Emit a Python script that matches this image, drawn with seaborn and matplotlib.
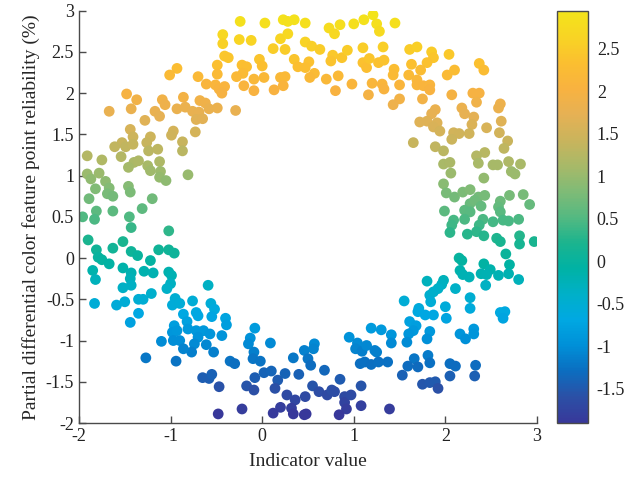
import numpy as np
import pandas as pd
import matplotlib
matplotlib.use('Agg')
import matplotlib.pyplot as plt
from matplotlib.colors import LinearSegmentedColormap, Normalize
from matplotlib.cm import ScalarMappable
from matplotlib.ticker import FormatStrFormatter
import seaborn as sns

# ============================================================
# Data, (indicator, reliability)
# ============================================================
upper_left = [
    (-0.43, 2.71), (-0.43, 2.60), (-0.41, 2.45), (-0.37, 2.43), (-0.49, 2.34), (-0.49, 2.23),
    (-0.93, 2.30), (-1.01, 2.22), (-0.70, 2.20), (-0.61, 2.11), (-0.51, 2.10), (-0.47, 2.05),
    (-0.41, 2.08), (-0.44, 2.00), (-1.48, 1.99), (-1.37, 1.92), (-1.67, 1.78), (-1.43, 1.81),
    (-1.09, 1.92), (-1.06, 1.86), (-0.86, 1.95), (-0.93, 1.81), (-0.84, 1.83), (-0.68, 1.91),
    (-0.62, 1.88), (-0.58, 1.81), (-0.49, 1.82), (-0.76, 1.78), (-0.69, 1.77), (-0.72, 1.68),
    (-0.65, 1.69), (-1.17, 1.78), (-1.12, 1.72), (-1.28, 1.67), (-1.44, 1.56), (-1.41, 1.47),
    (-0.97, 1.54), (-0.99, 1.49), (-0.73, 1.53), (-1.22, 1.47), (-0.87, 1.41), (-0.87, 1.30),
    (-1.53, 1.40), (-1.61, 1.35), (-1.49, 1.35), (-1.41, 1.38), (-1.26, 1.40), (-1.24, 1.30),
    (-1.14, 1.32), (-1.54, 1.23), (-1.91, 1.24), (-1.75, 1.19), (-1.40, 1.16), (-1.35, 1.18),
    (-1.46, 1.10), (-1.25, 1.12), (-1.22, 1.06), (-1.12, 1.17), (-1.11, 1.05), (-1.12, 0.98),
    (-1.05, 0.94), (-0.81, 1.01), (-1.91, 1.02), (-1.87, 0.96), (-1.78, 1.03), (-1.71, 0.93),
    (-1.67, 0.85), (-1.82, 0.84), (-1.69, 0.78), (-1.63, 0.75), (-1.46, 0.87), (-1.44, 0.80),
    (-1.89, 0.72), (-1.20, 0.72), (-1.31, 0.60), (-1.81, 0.57), (-1.63, 0.57), (-1.96, 0.50),
    (-1.83, 0.47), (-1.45, 0.50),
]

upper_mid = [
    (-0.24, 2.87), (0.03, 2.85), (0.23, 2.89), (0.28, 2.87), (0.35, 2.89), (0.47, 2.85),
    (0.73, 2.79), (0.79, 2.72), (0.85, 2.83), (1.00, 2.84), (1.11, 2.89), (1.21, 2.95),
    (1.25, 2.84), (1.28, 2.75), (-0.25, 2.65), (-0.12, 2.64), (0.20, 2.66), (0.28, 2.72),
    (0.12, 2.54), (0.25, 2.53), (0.47, 2.62), (0.54, 2.57), (0.63, 2.53), (0.77, 2.46),
    (0.75, 2.39), (0.87, 2.43), (0.93, 2.52), (1.10, 2.55), (1.32, 2.56), (-0.03, 2.41),
    (0.00, 2.33), (-0.22, 2.34), (-0.17, 2.32), (-0.21, 2.24), (-0.28, 2.20), (0.35, 2.41),
    (0.39, 2.32), (0.51, 2.38), (0.47, 2.31), (0.57, 2.24), (0.52, 2.19), (1.10, 2.37),
    (1.14, 2.31), (1.17, 2.42), (1.27, 2.37), (1.33, 2.40), (-0.09, 2.17), (0.02, 2.19),
    (0.20, 2.19), (0.25, 2.20), (0.70, 2.17), (0.83, 2.21), (0.98, 2.11), (1.20, 2.12),
    (1.31, 2.11), (1.33, 2.05), (-0.20, 2.09), (-0.09, 2.03), (0.13, 2.04), (0.23, 2.09),
    (0.80, 2.03), (1.16, 1.98), (-0.29, 1.79),
]

upper_right = [
    (1.45, 2.85), (1.61, 2.53), (1.69, 2.56), (1.85, 2.50), (1.87, 2.43), (1.80, 2.37),
    (2.04, 2.47), (1.63, 2.35), (1.73, 2.28), (1.44, 2.29), (1.43, 2.22), (1.60, 2.22),
    (1.69, 2.16), (1.69, 2.10), (2.37, 2.36), (2.42, 2.28), (2.02, 2.22), (2.10, 2.28),
    (1.50, 2.10), (1.76, 2.09), (1.83, 2.10), (1.83, 2.04), (2.07, 1.98), (2.30, 2.00),
    (2.37, 2.00), (2.34, 1.89), (1.50, 1.93), (1.43, 1.86), (1.75, 1.93), (1.89, 1.80),
    (1.85, 1.75), (2.18, 1.82), (2.21, 1.75), (2.60, 1.87), (2.58, 1.82), (1.72, 1.65),
    (1.80, 1.66), (1.91, 1.64), (1.87, 1.59), (1.94, 1.54), (2.31, 1.71), (2.29, 1.62),
    (2.61, 1.66), (2.09, 1.52), (2.15, 1.51), (2.07, 1.44), (2.26, 1.51), (2.45, 1.58),
    (2.59, 1.52), (1.65, 1.40), (2.68, 1.42), (2.64, 1.33), (1.89, 1.35), (1.98, 1.30),
    (2.43, 1.28), (2.34, 1.24),
]

mid_right = [
    (1.98, 1.14), (2.05, 1.16), (2.36, 1.15), (2.52, 1.13), (2.57, 1.13), (2.69, 1.17),
    (2.82, 1.14), (2.06, 1.03), (2.42, 0.97), (2.72, 1.05), (2.76, 1.02), (1.98, 0.90),
    (2.01, 0.79), (2.10, 0.74), (2.19, 0.80), (2.27, 0.83), (2.36, 0.74), (2.43, 0.76),
    (2.27, 0.66), (2.32, 0.70), (2.60, 0.69), (2.58, 0.62), (2.70, 0.76), (2.85, 0.77),
    (2.92, 0.65), (1.99, 0.57), (2.21, 0.58), (2.27, 0.56), (2.39, 0.63), (2.60, 0.56),
    (2.09, 0.46), (2.07, 0.40), (2.05, 0.31), (2.21, 0.47), (2.41, 0.47), (2.37, 0.40),
    (2.34, 0.32), (2.42, 0.27), (2.52, 0.44), (2.63, 0.46), (2.69, 0.45), (2.80, 0.47),
    (2.24, 0.29), (2.56, 0.24), (2.60, 0.20), (2.66, 0.05), (2.81, 0.27), (2.81, 0.17),
    (2.97, 0.20), (2.15, 0.00), (2.18, -0.03), (2.42, -0.07), (2.49, -0.14), (2.39, -0.19),
    (2.45, -0.20), (2.16, -0.15), (2.19, -0.20), (2.26, -0.23), (2.58, -0.21), (2.70, -0.08),
    (2.69, -0.19), (2.80, -0.26), (2.44, -0.33), (2.11, -0.37), (1.80, -0.28), (1.98, -0.27),
    (1.96, -0.32), (1.92, -0.37), (1.83, -0.45), (1.87, -0.41), (1.84, -0.53), (1.55, -0.52),
    (1.71, -0.61), (2.27, -0.48), (2.27, -0.61), (2.00, -0.59),
]

lower_left = [
    (-1.43, 0.37), (-1.02, 0.33), (-1.90, 0.22), (-1.63, 0.12), (-1.52, 0.20), (-1.81, 0.10),
    (-1.79, 0.01), (-1.75, -0.02), (-1.67, -0.07), (-1.43, 0.08), (-1.36, 0.03), (-1.22, -0.03),
    (-1.13, 0.10), (-1.02, 0.10), (-0.96, 0.06), (-1.85, -0.15), (-1.82, -0.26), (-1.52, -0.12),
    (-1.43, -0.18), (-1.44, -0.25), (-1.43, -0.33), (-1.29, -0.16), (-1.19, -0.18), (-1.52, -0.36),
    (-1.02, -0.17), (-0.99, -0.21), (-1.00, -0.31), (-1.04, -0.37), (-0.59, -0.33), (-1.83, -0.55),
    (-1.59, -0.57), (-1.50, -0.53), (-1.35, -0.50), (-1.30, -0.50), (-1.21, -0.43), (-1.35, -0.67),
    (-1.44, -0.78), (-0.95, -0.49), (-0.98, -0.57), (-0.90, -0.55), (-0.76, -0.52), (-0.86, -0.68),
    (-0.82, -0.77), (-0.72, -0.66), (-0.70, -0.70), (-0.56, -0.55), (-0.52, -0.62), (-0.55, -0.71),
    (-0.40, -0.73), (-0.39, -0.81), (-0.44, -0.94), (-0.96, -0.82), (-0.98, -0.90), (-0.93, -0.88),
    (-0.81, -0.86), (-0.72, -0.88), (-0.64, -0.88), (-0.70, -0.96), (-0.57, -0.92), (-0.97, -1.00),
    (-0.90, -1.00), (-0.74, -1.04), (-0.77, -1.14), (-0.86, -1.10), (-1.10, -1.01), (-0.61, -1.05),
    (-0.53, -1.14), (-1.27, -1.21), (-0.94, -1.25), (-0.65, -1.45), (-0.58, -1.46), (-0.55, -1.41),
    (-0.47, -1.56), (-0.48, -1.89),
]

lower_mid = [
    (-0.08, -0.85), (-0.13, -0.97), (-0.15, -1.04), (0.09, -1.03), (-0.09, -1.14), (-0.10, -1.22),
    (-0.02, -1.25), (-0.35, -1.25), (-0.30, -1.28), (-0.08, -1.45), (0.02, -1.39), (0.10, -1.37),
    (-0.17, -1.55), (-0.09, -1.60), (0.17, -1.48), (0.25, -1.40), (0.14, -1.58), (0.34, -1.21),
    (0.46, -1.12), (0.50, -1.22), (0.53, -1.30), (0.57, -1.04), (0.56, -1.10), (0.40, -1.41),
    (0.68, -1.36), (0.27, -1.66), (0.36, -1.72), (0.47, -1.68), (0.32, -1.82), (0.34, -1.89),
    (0.20, -1.81), (0.12, -1.88), (0.46, -1.90), (0.48, -1.89), (-0.22, -1.83), (0.55, -1.55),
    (0.62, -1.62), (0.71, -1.66), (0.76, -1.60), (0.79, -1.62), (0.85, -1.47), (0.90, -1.68),
    (0.90, -1.75), (0.92, -1.83), (0.84, -1.90), (0.97, -1.66), (1.08, -1.55), (1.08, -1.79),
    (0.95, -0.96), (1.04, -1.03), (1.02, -1.10), (1.09, -1.13), (1.14, -1.06), (1.23, -1.12),
    (1.25, -1.14), (1.07, -1.28), (1.12, -1.26), (1.19, -1.29), (1.27, -1.26), (1.19, -0.85),
    (1.30, -0.87),
]

lower_right = [
    (2.01, -0.73), (1.70, -0.65), (1.78, -0.69), (1.87, -0.69), (1.61, -0.77), (1.68, -0.82),
    (1.65, -0.88), (1.60, -0.92), (1.58, -1.02), (1.83, -0.89), (1.80, -0.98), (1.41, -0.93),
    (1.41, -1.03), (2.16, -0.92), (2.22, -0.98), (2.31, -0.86), (2.31, -0.92), (2.60, -0.66),
    (2.65, -0.65), (2.63, -0.73), (1.37, -1.26), (1.66, -1.22), (1.59, -1.31), (1.70, -1.32),
    (1.81, -1.18), (1.83, -1.27), (1.53, -1.42), (2.05, -1.28), (2.11, -1.31), (2.05, -1.43),
    (2.33, -1.30), (2.32, -1.43), (1.75, -1.53), (1.83, -1.51), (1.89, -1.50), (1.92, -1.58),
    (1.39, -1.83),
]

x_ticks = [-2, -1, 0, 1, 2, 3]
y_ticks = [-2, -1.5, -1, -0.5, 0, 0.5, 1, 1.5, 2, 2.5, 3]
cbar_ticks = [-1.5, -1, -0.5, 0, 0.5, 1, 1.5, 2, 2.5]

# colormap sampled from the reference markers / colour bar (low -> high)
cmap_colors = ['#38389a', '#2b50a6', '#0b6ec0', '#0090d8', '#00a8e2', '#00b0c8',
               '#00b2a4', '#1cb48e', '#55b981', '#80bb76', '#a8b968', '#cab45c',
               '#e6b154', '#f8b240', '#fbbf30', '#f8d424', '#f3e41a']

df = pd.DataFrame(upper_left + upper_mid + upper_right + mid_right
                  + lower_left + lower_mid + lower_right,
                  columns=['indicator', 'reliability'])

# ============================================================
# Plot
# ============================================================
sns.set_style('ticks')
plt.rcParams['font.family'] = ['Liberation Serif', 'DejaVu Serif']
plt.rcParams['axes.unicode_minus'] = False

cmap = LinearSegmentedColormap.from_list('cbar_ref', cmap_colors)
norm = Normalize(vmin=df['reliability'].min(), vmax=df['reliability'].max())

fig = plt.figure(figsize=(6.41, 4.79), dpi=100)
ax = fig.add_axes([0.1232, 0.1169, 0.7145, 0.8608])

sns.scatterplot(data=df, x='indicator', y='reliability', hue='reliability',
                palette=cmap, hue_norm=norm, s=60, linewidth=0,
                legend=False, ax=ax)

ax.set_xlim(-2, 3)
ax.set_ylim(-2, 3)
ax.set_xticks(x_ticks)
ax.set_yticks(y_ticks)
ax.yaxis.set_major_formatter(FormatStrFormatter('%g'))
ax.set_xlabel('Indicator value', fontsize=14, labelpad=6)
ax.set_ylabel('Partial differential color feature point reliability (%)',
              fontsize=14, labelpad=4)
sns.despine(ax=ax)
for side in ['left', 'bottom']:
    ax.spines[side].set_color('#4a4a4a')
    ax.spines[side].set_linewidth(1.0)
ax.tick_params(direction='in', length=5, width=1, color='#4a4a4a',
               labelsize=13, labelcolor='#222222')

cax = fig.add_axes([0.869, 0.1169, 0.049, 0.8608])
sm = ScalarMappable(norm=norm, cmap=cmap)
cbar = fig.colorbar(sm, cax=cax, ticks=cbar_ticks)
cbar.ax.yaxis.set_major_formatter(FormatStrFormatter('%g'))
cbar.ax.tick_params(direction='in', length=5, width=1, color='#4a4a4a',
                    labelsize=13, labelcolor='#222222', pad=6)
cbar.outline.set_edgecolor('#4a4a4a')
cbar.outline.set_linewidth(1.0)

plt.savefig('out.png', dpi=100)
plt.close()
